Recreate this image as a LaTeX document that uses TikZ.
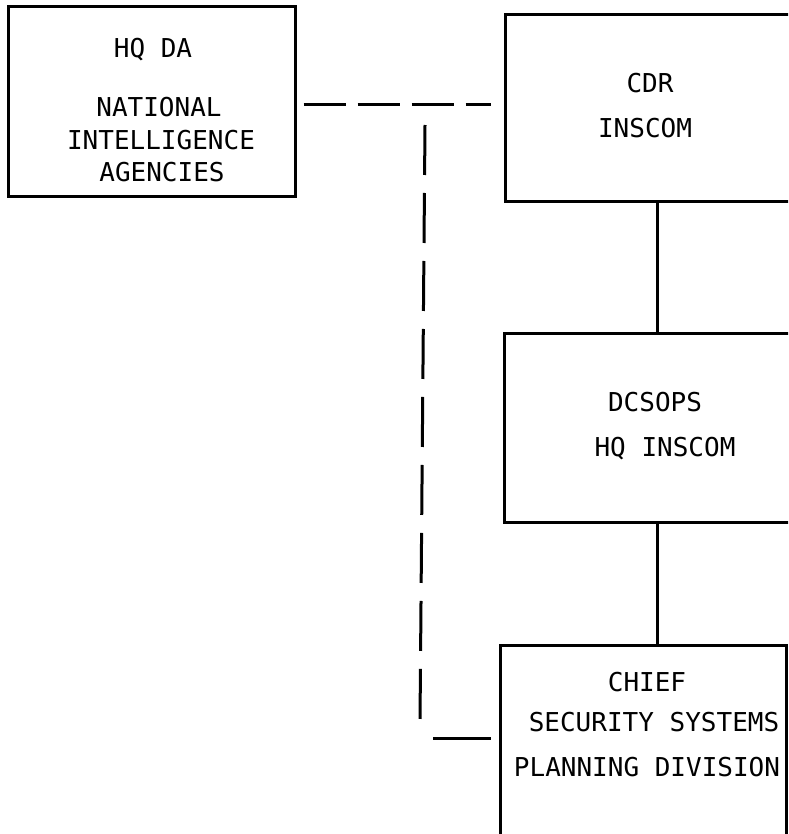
\documentclass[tikz,border=0pt]{standalone}
\usepackage{fontspec}
\newfontfamily\plotfont{DejaVu Sans Mono}
\begin{document}
\begin{tikzpicture}[x=1pt,y=-1pt,
  box/.style={draw, line width=3pt, inner sep=0pt, rectangle},
  txt/.style={font=\plotfont\fontsize{26pt}{30pt}\selectfont, anchor=base, inner sep=0pt},
  solidline/.style={line width=3pt},
  dashline/.style={line width=3pt, dash pattern=on 42pt off 12pt},
  vdashline/.style={line width=3pt, dash pattern=on 50pt off 18pt}]
\useasboundingbox (0,0) rectangle (788,834);
\clip (0,0) rectangle (788,834);
% boxes
\node[box, minimum width=287pt, minimum height=190pt] (hq) at (151.5,102) {};
\node[box, minimum width=290pt, minimum height=187pt] (cdr) at (650,108.5) {};
\node[box, minimum width=291pt, minimum height=189pt] (dcs) at (649.5,427.5) {};
\node[box, minimum width=286pt, minimum height=215pt] (chief) at (643,752.5) {};
% texts
\node[txt] (t1) at (153,57.5) {HQ DA};
\node[txt] (t2) at (159,116.5) {NATIONAL};
\node[txt] (t3) at (161,149.5) {INTELLIGENCE};
\node[txt] (t4) at (162,181.5) {AGENCIES};
\node[txt] (t5) at (650,92.5) {CDR};
\node[txt] (t6) at (645,137.5) {INSCOM};
\node[txt] (t7) at (655,411.5) {DCSOPS};
\node[txt] (t8) at (665,456.5) {HQ INSCOM};
\node[txt] (t9) at (647,691.5) {CHIEF};
\node[txt] (t10) at (654,731.5) {SECURITY SYSTEMS};
\node[txt] (t11) at (647,776.5) {PLANNING DIVISION};
% solid connectors
\draw[solidline] ([xshift=7pt]cdr.south) -- ([xshift=7pt]cdr.south |- dcs.north);
\draw[solidline] ([xshift=7.5pt]dcs.south) -- ([xshift=7.5pt]dcs.south |- chief.north);
% dashed connectors
\draw[dashline, shorten <=7pt, shorten >=13pt] ([yshift=-3pt]hq.east) -- ([yshift=-3pt]hq.east -| cdr.west);
\coordinate (vt) at (425,125);
\coordinate (vb) at (420,722);
\draw[vdashline] (vt) -- (vb);
\coordinate (sl) at (433,738);
\draw[solidline, shorten >=8pt] (sl) -- (sl -| chief.west);
\end{tikzpicture}
\end{document}
